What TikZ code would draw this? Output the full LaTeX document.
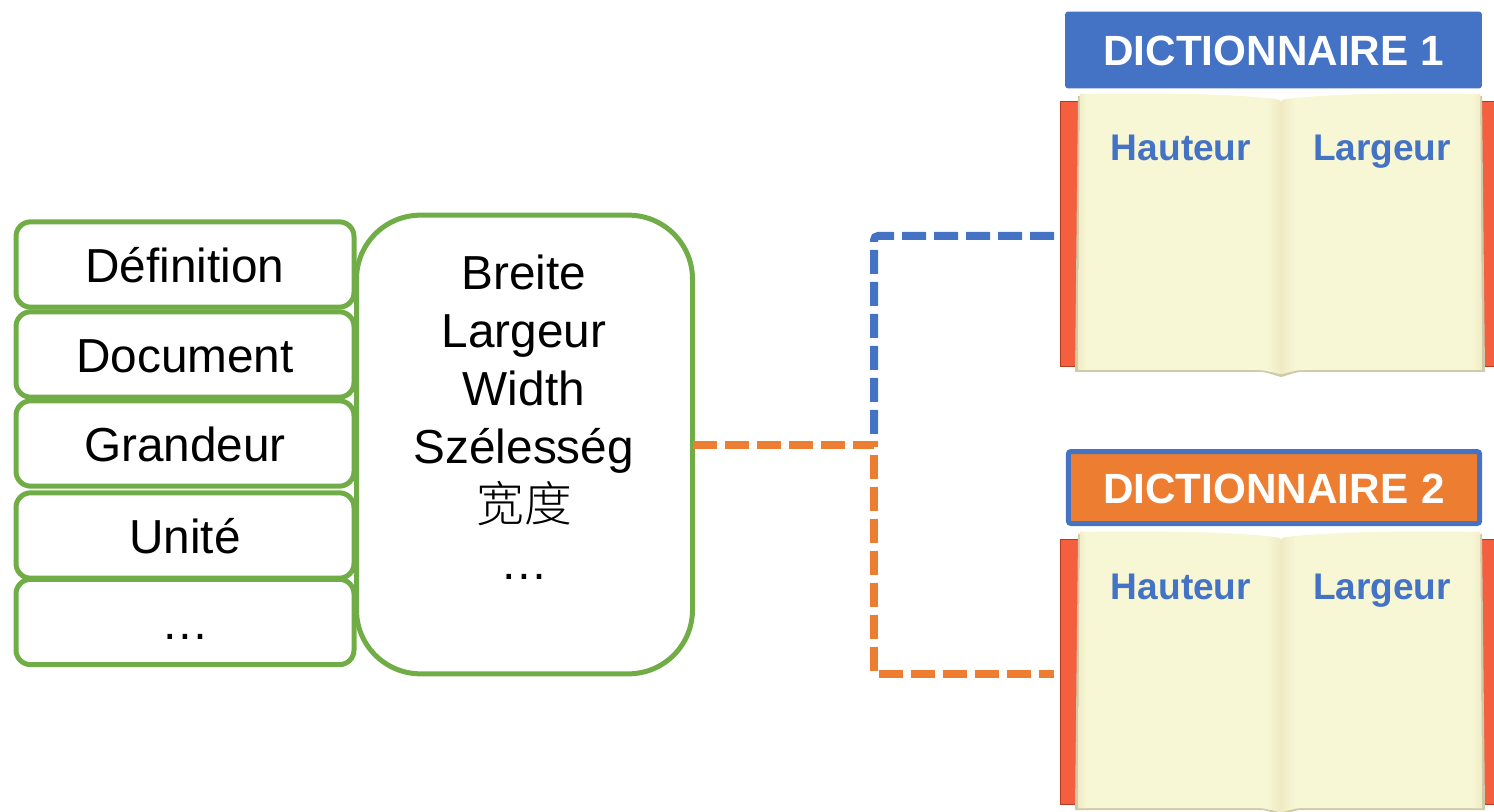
\documentclass[tikz,border=0pt]{standalone}
\usepackage{fontspec}
\setmainfont{Liberation Sans}
\newfontfamily\cjkfont{Noto Sans CJK SC Light}[BoldFont={Noto Sans CJK SC}]
\definecolor{vert}{HTML}{70AD47}
\definecolor{bleu}{HTML}{4472C4}
\definecolor{orange}{HTML}{ED7D31}
\definecolor{rouge}{HTML}{F4603F}
\definecolor{rougeb}{HTML}{B23A22}
\definecolor{page}{HTML}{F7F7D6}
\definecolor{pageb}{HTML}{F0EBC4}
\definecolor{pagel}{HTML}{CFCAA8}
\tikzset{
  termbox/.style={draw=vert,line width=3.75pt,fill=white,rounded corners=11pt,
    minimum width=253.5pt,minimum height=64pt,inner sep=0pt,outer sep=0pt,
    text height=32.4pt,text depth=6pt,
    font=\fontsize{35.8}{40}\selectfont,text=black},
  bigbox/.style={draw=vert,line width=3.75pt,fill=white,rounded corners=48pt,
    minimum width=252pt,minimum height=344pt,inner sep=0pt,outer sep=0pt,align=center,
    font=\fontsize{35.8}{43.5}\selectfont,text=black},
  dicttitle/.style={rounded corners=2pt,inner sep=0pt,outer sep=0pt,text=white,
    text height=28pt,text depth=4.4pt,
    font=\fontsize{31.7}{36}\selectfont\bfseries},
  booktext/.style={text=bleu,inner sep=0pt,text height=24pt,text depth=4.5pt,
    font=\fontsize{27.8}{32}\selectfont\bfseries},
  bookarea/.style={inner sep=0pt,outer sep=0pt,minimum width=330pt,minimum height=217.5pt},
  dashline/.style={line width=6pt,dash pattern=on 18pt off 6pt}
}
\newcommand{\openbook}{%
  \fill[rouge,draw=rougeb,line width=.5pt] (1060,101) rectangle (1080,366);
  \fill[rouge,draw=rougeb,line width=.5pt] (1478,101) rectangle (1500,366);
  % page block with its thin tan edge
  \fill[pagel] (1075,372) -- (1078,96) .. controls (1140,95) and (1240,95) .. (1281,102)
     .. controls (1320,95) and (1420,95) .. (1482,96) -- (1485,372) -- (1300,372)
     .. controls (1292,373) and (1286,376) .. (1281,377)
     .. controls (1276,376) and (1270,373) .. (1262,372) -- cycle;
  % left page
  \begin{scope}
    \clip (1078,370) -- (1080,94) .. controls (1140,93) and (1240,93) .. (1280,100)
     -- (1280,374) .. controls (1272,372) and (1265,370) .. (1255,370) -- cycle;
    \fill[page] (1070,90) rectangle (1282,380);
    \shade[left color=page,right color=pageb] (1266,90) rectangle (1280,380);
    \shade[left color=pageb,right color=page] (1078,90) rectangle (1086,380);
  \end{scope}
  % right page
  \begin{scope}
    \clip (1282,374) -- (1282,100) .. controls (1320,93) and (1420,93) .. (1480,94)
     -- (1482,370) -- (1305,370) .. controls (1295,370) and (1289,372) .. (1282,374) -- cycle;
    \fill[page] (1280,90) rectangle (1490,380);
    \shade[left color=pageb,right color=page] (1282,90) rectangle (1295,380);
    \shade[left color=page,right color=pageb] (1472,90) rectangle (1482,380);
  \end{scope}
  \fill[pageb] (1280,101) rectangle (1282,374);
}
\begin{document}
\begin{tikzpicture}[x=0.75pt,y=-0.75pt]
\useasboundingbox (0,0) rectangle (1494,812);
\begin{scope}
\clip (0,0) rectangle (1494,812);
\openbook
\begin{scope}[yshift=-328.5pt]
\openbook
\end{scope}
\end{scope}

% invisible anchors for the two books
\node[bookarea] (book1) at (1274,236) {};
\node[bookarea] (book2) at (1274,674) {};

% titles
\node[dicttitle,fill=bleu,minimum width=312.5pt,minimum height=57.5pt] (d1) at (1273.5,50)
  {DICTIONNAIRE\hspace{0pt} 1\hspace{3.5pt}};
\node[dicttitle,fill=orange,draw=bleu,line width=3.75pt,minimum width=308.5pt,minimum height=54pt] (d2) at (1274,487.5)
  {DICTIONNAIRE\hspace{1pt} 2};

% book labels
\node[booktext] (h1) at (1181,148) {Hauteur};
\node[booktext] (l1) at (1382,148) {Largeur};
\node[booktext] (h2) at (1181,586) {Hauteur};
\node[booktext] (l2) at (1382,586) {Largeur};

% big box and stacked terms
\node[bigbox] (big) at (524.5,444.5)
  {\hspace*{-1pt}Breite\\\hspace*{-1pt}Largeur\\\hspace*{-1pt}Width\\\hspace*{-1pt}Szélesség\\{\cjkfont 宽度}\\…\\[-3pt]\mbox{}};
\node[termbox] (t1) at (185,264.5) {Définition};
\node[termbox] (t2) at (185,354.5) {Document};
\node[termbox] (t3) at (185,443.5) {Grandeur};
\node[termbox] (t4) at (185,535.5) {Unité};
\node[termbox] (t5) at (185,622) {…};

% connectors
\coordinate (junction) at (874,444.5);
\draw[dashline,draw=bleu,rounded corners=3pt] (book1.west) -| (junction);
\draw[dashline,draw=orange] (big.east) -- (junction) |- (book2.west);
\end{tikzpicture}
\end{document}
